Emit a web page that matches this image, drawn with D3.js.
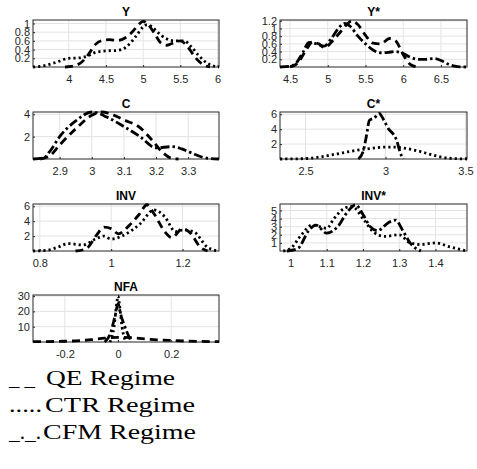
<!DOCTYPE html>
<html><head><meta charset="utf-8">
<script src="https://cdn.jsdelivr.net/npm/d3@7"></script>
<style>
body{margin:0;background:#fff;}
svg{display:block;}
.tick text{font-family:"Liberation Sans",Arial,sans-serif;font-size:11px;fill:#262626;}
</style></head>
<body><svg id="c" width="477" height="469"></svg>
<script>
// ---------- data ----------
const titles = ["Y", "Y*", "C", "C*", "INV", "INV*", "NFA"];
const xDomains = [[3.52, 6.02], [4.367, 6.845], [2.817, 3.396], [2.34, 3.51], [0.781, 1.302], [0.971, 1.487], [-0.32, 0.38]];
const yDomains = [[0, 1.08], [0, 1.22], [0, 4.2], [0, 6.3], [0, 6.3], [0, 5.8], [0, 30.7]];
const xTickVals = [[4, 4.5, 5, 5.5, 6], [4.5, 5, 5.5, 6, 6.5], [2.9, 3, 3.1, 3.2, 3.3], [2.5, 3, 3.5], [0.8, 1, 1.2], [1, 1.1, 1.2, 1.3, 1.4], [-0.2, 0, 0.2]];
const yTickVals = [[0.2, 0.4, 0.6, 0.8, 1], [0.2, 0.4, 0.6, 0.8, 1, 1.2], [2, 4], [2, 4, 6], [2, 4, 6], [1, 2, 3, 4, 5], [10, 20, 30]];
const xTickFmt = [["4","4.5","5","5.5","6"], ["4.5","5","5.5","6","6.5"], ["2.9","3","3.1","3.2","3.3"], ["2.5","3","3.5"], ["0.8","1","1.2"], ["1","1.1","1.2","1.3","1.4"], ["-0.2","0","0.2"]];
const yTickFmt = [["0.2","0.4","0.6","0.8","1"], ["0.2","0.4","0.6","0.8","1","1.2"], ["2","4"], ["2","4","6"], ["2","4","6"], ["1","2","3","4","5"], ["10","20","30"]];

// Y panel
const Y_QE  = [[3.95,0],[4.08,0.03],[4.18,0.12],[4.27,0.3],[4.36,0.52],[4.45,0.61],[4.55,0.63],[4.65,0.61],[4.75,0.66],[4.85,0.8],[4.95,0.99],[5.0,1.05],[5.06,0.99],[5.15,0.78],[5.24,0.55],[5.32,0.5],[5.4,0.55],[5.5,0.6],[5.6,0.46],[5.7,0.22],[5.8,0.06],[5.9,0]];
const Y_CTR = [[3.52,0],[3.7,0.04],[3.85,0.12],[4.0,0.2],[4.15,0.21],[4.25,0.25],[4.35,0.33],[4.5,0.37],[4.65,0.38],[4.78,0.47],[4.9,0.7],[5.0,0.92],[5.05,0.97],[5.12,0.92],[5.2,0.79],[5.3,0.66],[5.42,0.6],[5.55,0.6],[5.65,0.46],[5.75,0.26],[5.85,0.1],[5.95,0.02],[6.02,0]];
// Y* panel
const Ys_QE  = [[4.5,0],[4.6,0.1],[4.7,0.4],[4.8,0.65],[4.88,0.6],[4.96,0.5],[5.05,0.65],[5.15,0.87],[5.25,1.1],[5.32,1.2],[5.4,1.1],[5.5,0.82],[5.6,0.62],[5.7,0.6],[5.82,0.74],[5.9,0.68],[6.0,0.32],[6.1,0.06],[6.2,0]];
const Ys_CFM = [[4.367,0],[4.5,0.02],[4.58,0.1],[4.67,0.38],[4.75,0.64],[4.85,0.6],[4.95,0.54],[5.05,0.75],[5.14,1.0],[5.22,1.13],[5.3,1.05],[5.4,0.8],[5.5,0.6],[5.6,0.44],[5.7,0.37],[5.8,0.38],[5.9,0.4],[6.0,0.35],[6.1,0.25],[6.2,0.2],[6.3,0.2],[6.4,0.22],[6.5,0.17],[6.6,0.07],[6.72,0.01],[6.845,0]];
// C panel
const C_QE  = [[2.84,0],[2.87,0.3],[2.9,1.25],[2.95,2.7],[3.0,3.9],[3.03,4.2],[3.07,3.9],[3.1,3.5],[3.15,2.8],[3.19,1.6],[3.22,0.6],[3.25,0.05],[3.27,0]];
const C_CFM = [[2.817,0],[2.85,0.1],[2.87,0.7],[2.9,2.0],[2.95,3.4],[3.0,4.2],[3.05,3.7],[3.1,2.9],[3.15,2.0],[3.2,1.0],[3.25,1.1],[3.28,0.9],[3.31,0.55],[3.34,0.2],[3.37,0.03],[3.396,0]];
// C* panel
const Cs_CTR = [[2.34,0],[2.5,0.05],[2.6,0.3],[2.7,0.7],[2.8,1.1],[2.9,1.4],[3.0,1.6],[3.05,1.6],[3.1,1.5],[3.2,1.1],[3.3,0.5],[3.4,0.1],[3.51,0]];
const Cs_CFM = [[2.83,0],[2.86,1.0],[2.88,3.0],[2.9,5.2],[2.93,5.5],[2.96,6.1],[2.99,5.2],[3.02,4.0],[3.05,3.3],[3.07,2.5],[3.09,1.0],[3.11,0]];
// INV panel
const I_QE  = [[0.9,0],[0.93,0.3],[0.96,2.2],[0.98,3.2],[1.0,3.0],[1.02,2.3],[1.05,3.4],[1.08,5.0],[1.1,6.2],[1.12,5.0],[1.15,2.6],[1.17,1.8],[1.2,3.0],[1.22,2.5],[1.25,0.5],[1.27,0]];
const I_CTR = [[0.781,0],[0.82,0.1],[0.85,0.5],[0.88,1.0],[0.92,0.8],[0.96,1.7],[0.98,2.0],[1.0,1.6],[1.03,2.0],[1.08,3.6],[1.12,5.5],[1.15,4.6],[1.18,2.6],[1.2,2.8],[1.23,2.6],[1.27,0.5],[1.302,0]];
// INV* panel
const Is_CTR = [[0.98,0],[1.0,0.3],[1.03,2.0],[1.06,3.2],[1.08,3.0],[1.1,2.8],[1.12,4.0],[1.15,5.3],[1.17,5.5],[1.2,4.0],[1.23,2.3],[1.26,1.8],[1.3,2.0],[1.33,1.0],[1.36,0.8],[1.4,1.0],[1.44,0.5],[1.487,0]];
const Is_CFM = [[0.99,0],[1.02,0.3],[1.05,2.5],[1.07,3.2],[1.1,2.2],[1.13,3.0],[1.16,5.0],[1.18,5.7],[1.2,4.5],[1.22,3.0],[1.24,2.5],[1.27,3.5],[1.29,3.8],[1.31,2.5],[1.33,1.0],[1.36,0]];
// NFA panel
const N_QE  = [[-0.32,0.2],[-0.2,0.5],[-0.1,1.5],[-0.05,2.5],[0,3.0],[0.05,2.8],[0.1,2.0],[0.2,1.0],[0.3,0.4],[0.38,0.2]];
const N_CTR = [[-0.03,0],[-0.015,10],[-0.005,25],[0,30],[0.005,25],[0.015,10],[0.03,0]];
const N_CFM = [[-0.05,0],[-0.03,5],[-0.01,18],[0,25],[0.01,18],[0.03,8],[0.05,0]];

const legendPrefixes = ["_ _", ".....", "_._."];
const legendLabels = ["QE Regime", "CTR Regime", "CFM Regime"];

// ---------- layout ----------
const panelSeries = [
  [[Y_QE,"QE"],[Y_CTR,"CTR"]],
  [[Ys_QE,"QE"],[Ys_CFM,"CFM"]],
  [[C_QE,"QE"],[C_CFM,"CFM"]],
  [[Cs_CTR,"CTR"],[Cs_CFM,"CFM"]],
  [[I_QE,"QE"],[I_CTR,"CTR"]],
  [[Is_CTR,"CTR"],[Is_CFM,"CFM"]],
  [[N_QE,"QE"],[N_CTR,"CTR"],[N_CFM,"CFM"]]
];
const dash = {QE:"8,5", CTR:"2.2,3", CFM:"9,3,2.5,3"};
const colL = [33, 280], colW = [186, 187];
const rowT = [20, 112, 204, 295], rowH = 47;

const svg = d3.select("#c");
titles.forEach((t, i) => {
  const col = i % 2, row = Math.floor(i / 2);
  const x0 = colL[col], w = colW[col], y0 = rowT[row], h = rowH;
  const g = svg.append("g").attr("transform", `translate(${x0},${y0})`);
  const x = d3.scaleLinear().domain(xDomains[i]).range([0, w]);
  const y = d3.scaleLinear().domain(yDomains[i]).range([h, 0]);
  g.append("g").selectAll("line").data(xTickVals[i]).join("line")
    .attr("x1", d => x(d)).attr("x2", d => x(d)).attr("y1", 0).attr("y2", h)
    .attr("stroke", "#e3e3e3").attr("stroke-width", 1);
  g.append("g").selectAll("line").data(yTickVals[i]).join("line")
    .attr("y1", d => y(d)).attr("y2", d => y(d)).attr("x1", 0).attr("x2", w)
    .attr("stroke", "#e3e3e3").attr("stroke-width", 1);
  const xa = g.append("g").attr("transform", `translate(0,${h})`)
    .call(d3.axisBottom(x).tickValues(xTickVals[i]).tickSizeInner(-2).tickSizeOuter(0)
      .tickFormat((d, k) => xTickFmt[i][k]));
  xa.selectAll("text").attr("dy", "0.71em").attr("y", 8);
  const ya = g.append("g")
    .call(d3.axisLeft(y).tickValues(yTickVals[i]).tickSizeInner(-2).tickSizeOuter(0)
      .tickFormat((d, k) => yTickFmt[i][k]));
  ya.selectAll("text").attr("x", -3);
  g.selectAll(".domain").remove();
  g.selectAll(".tick line").attr("stroke", "#262626");
  g.append("rect").attr("width", w).attr("height", h).attr("fill", "none")
    .attr("stroke", "#262626").attr("stroke-width", 1);
  const line = d3.line().x(d => x(d[0])).y(d => y(d[1])).curve(d3.curveMonotoneX);
  panelSeries[i].forEach(([data, kind]) => {
    g.append("path").attr("d", line(data)).attr("fill", "none")
      .attr("stroke", "#000").attr("stroke-width", 2.8)
      .attr("stroke-dasharray", dash[kind]);
  });
  g.append("text").attr("x", w / 2).attr("y", -4).attr("text-anchor", "middle")
    .attr("font-family", "Liberation Sans, Arial, sans-serif").attr("font-weight", "bold")
    .attr("font-size", 12).attr("fill", "#000").text(t);
});

// legend text
const prefW = [26, 33, 32], labX = [46, 45, 43], labW = [129, 150, 153];
const lg = svg.append("g").attr("font-family", "Liberation Serif, DejaVu Serif, serif")
  .attr("font-size", 22).attr("fill", "#000");
lg.selectAll("text.p").data(legendPrefixes).join("text").attr("class", "p")
  .attr("x", 9).attr("y", (d, k) => 385 + k * 27)
  .attr("textLength", (d, k) => prefW[k]).attr("lengthAdjust", "spacingAndGlyphs")
  .text(d => d);
lg.selectAll("text.l").data(legendLabels).join("text").attr("class", "l")
  .attr("x", (d, k) => labX[k]).attr("y", (d, k) => 385 + k * 27)
  .attr("textLength", (d, k) => labW[k]).attr("lengthAdjust", "spacingAndGlyphs")
  .text(d => d);
</script></body></html>
